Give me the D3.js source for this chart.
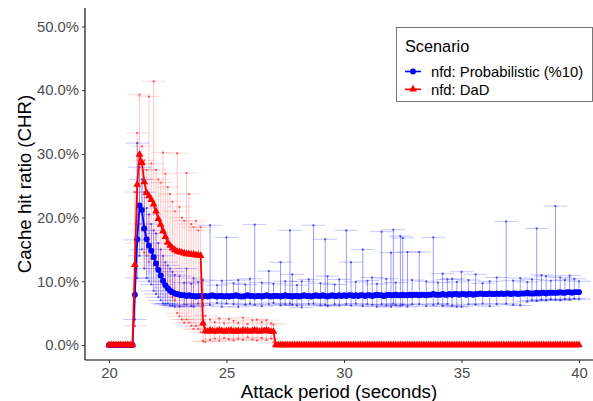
<!DOCTYPE html>
<html>
<head>
<meta charset="utf-8">
<script src="https://cdn.jsdelivr.net/npm/d3@7"></script>
<style>
  body { margin: 0; background: #fff; }
  text { font-family: "Liberation Sans", Arial, sans-serif; }
</style>
</head>
<body>
<div id="chart-container"></div>
<script>
// time grid, 0.1 s steps from 20 to 40
const times = d3.range(0, 201).map(function (i) { return +(20 + i / 10).toFixed(1); });

// cache hit ratio (%) per time step
const probValues = [
    0, 0, 0, 0, 0, 0, 0, 0, 0, 0, 0,
    7.9, 16.6, 21.9, 21.2, 18.3, 16.6, 15.6, 14.8, 13.8,
    12.8, 11.8, 10.9, 10.1, 9.4, 8.9, 8.5, 8.3, 8.1, 8.0,
    7.9, 7.8, 7.8, 7.7, 7.8, 7.7, 7.7, 7.6, 7.7, 7.7, 7.6,
    7.7, 7.6, 7.7, 7.8, 7.7, 7.6, 7.7, 7.7, 7.6, 7.7,
    7.6, 7.7, 7.7, 7.8, 7.7, 7.6, 7.6, 7.7, 7.8, 7.7,
    7.7, 7.6, 7.7, 7.7, 7.6, 7.7, 7.8, 7.7, 7.6, 7.7,
    7.7, 7.7, 7.6, 7.7, 7.8, 7.7, 7.7, 7.6, 7.7, 7.7,
    7.6, 7.7, 7.8, 7.7, 7.7, 7.6, 7.7, 7.8, 7.7, 7.7,
    7.8, 7.7, 7.6, 7.7, 7.8, 7.7, 7.7, 7.8, 7.7, 7.8,
    7.7, 7.8, 7.8, 7.7, 7.8, 7.7, 7.8, 7.8, 7.7, 7.8,
    7.8, 7.7, 7.8, 7.9, 7.8, 7.8, 7.7, 7.8, 7.9, 7.8,
    7.8, 7.9, 7.8, 7.8, 7.9, 7.8, 7.8, 7.9, 7.8, 7.9,
    7.9, 7.8, 7.9, 7.9, 7.8, 7.9, 7.9, 8.0, 7.9, 7.9,
    7.9, 8.0, 7.9, 7.9, 8.0, 7.9, 8.0, 8.0, 7.9, 8.0,
    8.0, 7.9, 8.0, 8.0, 7.9, 8.0, 8.0, 8.1, 8.0, 8.0,
    8.0, 8.1, 8.0, 8.0, 8.1, 8.0, 8.1, 8.0, 8.1, 8.1,
    8.0, 8.1, 8.1, 8.0, 8.1, 8.1, 8.1, 8.2, 8.1, 8.1,
    8.1, 8.2, 8.1, 8.2, 8.2, 8.1, 8.2, 8.2, 8.2, 8.2,
    8.2, 8.3, 8.2, 8.2, 8.3, 8.3, 8.2, 8.3, 8.3, 8.3
];

const dadValues = [
    0, 0, 0, 0, 0, 0, 0, 0, 0, 0, 0,
    12.6, 25.2, 29.9, 28.6, 25.6, 23.9, 23.4, 22.8, 22.1,
    21.0, 19.8, 18.9, 17.9, 17.0, 16.1, 15.6, 15.2, 14.9, 14.7,
    14.6, 14.5, 14.4, 14.3, 14.3, 14.2, 14.2, 14.1, 14.1, 14.0,
    3.4,
    2.2, 2.1, 2.3, 2.2, 2.1, 2.2, 2.3, 2.2, 2.1, 2.2,
    2.2, 2.3, 2.1, 2.2, 2.2, 2.1, 2.3, 2.2, 2.2, 2.1,
    2.2, 2.3, 2.2, 2.1, 2.2, 2.2, 2.3, 2.2, 2.1, 2.1,
    0, 0, 0, 0, 0, 0, 0, 0, 0, 0, 0, 0, 0, 0, 0, 0, 0, 0, 0, 0,
    0, 0, 0, 0, 0, 0, 0, 0, 0, 0, 0, 0, 0, 0, 0, 0, 0, 0, 0, 0,
    0, 0, 0, 0, 0, 0, 0, 0, 0, 0, 0, 0, 0, 0, 0, 0, 0, 0, 0, 0,
    0, 0, 0, 0, 0, 0, 0, 0, 0, 0, 0, 0, 0, 0, 0, 0, 0, 0, 0, 0,
    0, 0, 0, 0, 0, 0, 0, 0, 0, 0, 0, 0, 0, 0, 0, 0, 0, 0, 0, 0,
    0, 0, 0, 0, 0, 0, 0, 0, 0, 0, 0, 0, 0, 0, 0, 0, 0, 0, 0, 0,
    0, 0, 0, 0, 0, 0, 0, 0, 0, 0
];

// visible error bars: [time, low %, high %]
const probErrors = [
    [21.1, 4.0, 16.5], [21.2, 10.5, 31.7], [21.3, 14.0, 27.9], [21.4, 15.0, 26.0],
    [21.5, 12.0, 24.0], [21.6, 10.5, 21.5], [21.7, 10.0, 20.5], [21.8, 9.5, 19.0],
    [21.9, 8.5, 18.0], [22.0, 8.0, 17.5], [22.1, 7.5, 16.0], [22.2, 7.0, 15.0],
    [22.3, 6.5, 14.0], [22.4, 6.4, 13.0], [22.5, 6.5, 12.5], [22.6, 6.2, 12.0],
    [22.7, 6.2, 11.5], [22.8, 6.0, 11.0], [23.0, 6.0, 10.8], [23.2, 6.4, 9.8],
    [23.3, 6.3, 12.0], [23.5, 6.1, 9.6], [23.6, 6.0, 10.5], [23.8, 6.5, 9.9],
    [24.0, 6.2, 10.2], [24.3, 6.3, 18.8], [24.6, 6.6, 9.4], [24.8, 6.0, 10.1],
    [25.0, 6.5, 16.9], [25.3, 6.4, 9.7], [25.5, 6.0, 10.2], [25.8, 6.3, 9.5],
    [26.0, 6.5, 10.4], [26.2, 6.3, 18.9], [26.5, 6.1, 9.8], [26.8, 6.4, 11.6],
    [27.0, 6.6, 9.6], [27.3, 6.2, 13.0], [27.5, 6.4, 10.0], [27.7, 6.5, 18.0],
    [27.8, 6.3, 11.1], [28.0, 6.2, 9.4], [28.2, 5.9, 10.0], [28.5, 6.4, 10.3],
    [28.7, 6.5, 18.8], [29.0, 6.2, 9.7], [29.2, 6.3, 16.6], [29.3, 6.1, 10.8],
    [29.6, 6.4, 9.5], [29.8, 6.2, 10.3], [30.1, 6.4, 18.0], [30.3, 6.2, 13.0],
    [30.5, 6.5, 9.9], [30.8, 6.1, 15.0], [31.0, 6.4, 10.1], [31.2, 6.3, 10.6],
    [31.4, 6.0, 9.6], [31.6, 6.4, 17.8], [31.8, 6.2, 10.4], [32.0, 6.0, 14.5],
    [32.1, 6.5, 18.1], [32.2, 6.3, 9.8], [32.4, 6.2, 17.1], [32.5, 6.3, 16.8],
    [32.7, 6.0, 14.6], [32.9, 6.4, 10.2], [33.2, 6.4, 14.6], [33.5, 6.1, 10.0],
    [33.8, 6.3, 16.9], [34.0, 6.5, 9.8], [34.2, 6.1, 11.2], [34.4, 6.4, 10.3],
    [34.6, 6.2, 10.4], [34.8, 6.0, 9.9], [35.0, 6.0, 11.5], [35.3, 6.4, 10.2],
    [35.6, 6.3, 11.1], [35.9, 6.5, 9.7], [36.2, 6.1, 10.0], [36.5, 6.4, 10.6],
    [36.9, 6.5, 19.4], [37.2, 6.3, 10.1], [37.5, 6.2, 10.5], [37.8, 6.8, 9.9],
    [38.0, 7.0, 10.3], [38.2, 6.9, 18.3], [38.4, 7.1, 11.0], [38.6, 7.0, 10.8],
    [38.8, 7.2, 10.1], [39.0, 7.1, 21.8], [39.2, 7.0, 10.6], [39.4, 7.2, 10.2],
    [39.6, 7.1, 10.9], [39.8, 7.3, 10.4], [40.0, 7.2, 10.0]
];

const dadErrors = [
    [21.1, 3.0, 24.0], [21.2, 16.0, 33.3], [21.3, 19.0, 39.3], [21.4, 18.0, 31.2],
    [21.5, 14.5, 29.0], [21.6, 14.0, 27.5], [21.7, 13.0, 39.0], [21.8, 13.5, 28.5],
    [21.9, 12.5, 41.4], [22.0, 12.0, 27.5], [22.1, 11.5, 26.0], [22.2, 10.0, 25.5],
    [22.3, 9.5, 30.2], [22.4, 9.0, 26.9], [22.5, 8.5, 24.8], [22.6, 8.0, 23.7],
    [22.7, 7.5, 22.5], [22.8, 7.0, 21.0], [22.9, 5.0, 30.1], [23.0, 4.5, 21.7],
    [23.1, 4.0, 20.0], [23.2, 3.5, 19.5], [23.3, 4.0, 27.0], [23.4, 3.5, 23.7],
    [23.5, 3.0, 19.0], [23.6, 2.5, 18.5], [23.7, 3.0, 19.5], [23.8, 2.5, 18.0],
    [23.9, 2.0, 18.5], [24.0, 0.6, 6.5], [24.1, 0.5, 4.6], [24.3, 0.8, 4.0],
    [24.5, 1.0, 3.6], [24.7, 0.6, 4.2], [24.9, 1.1, 3.4], [25.1, 0.9, 4.1],
    [25.3, 0.7, 3.8], [25.5, 1.0, 3.5], [25.7, 0.8, 4.3], [25.9, 1.2, 3.3],
    [26.1, 0.9, 3.9], [26.3, 0.7, 4.0], [26.5, 1.1, 3.6], [26.7, 0.8, 3.9],
    [26.9, 1.0, 3.4], [27.0, 0.4, 3.2]
];

const yTicks = [0, 10, 20, 30, 40, 50];
const xTicks = [20, 25, 30, 35, 40];

const series = [
    { name: "nfd: Probabilistic (%10)", values: probValues, errors: probErrors, color: "#0000ff", shape: d3.symbolCircle, size: 28, vOpacity: 0.4, capOpacity: 0.22 },
    { name: "nfd: DaD", values: dadValues, errors: dadErrors, color: "#ff0000", shape: d3.symbolTriangle, size: 26, vOpacity: 0.22, capOpacity: 0.14 }
];

const width = 593, height = 401;
const panelLeft = 85, panelBottom = 360, panelTop = 8, panelRight = 593;

const x = d3.scaleLinear().domain([20, 40]).range([109, 579]);
const y = d3.scaleLinear().domain([0, 50]).range([345, 26.5]);

const svg = d3.select("#chart-container").append("svg")
    .attr("width", width)
    .attr("height", height);

svg.append("rect").attr("width", width).attr("height", height).attr("fill", "#fff");

svg.append("clipPath").attr("id", "panel")
    .append("rect")
    .attr("x", panelLeft).attr("y", panelTop)
    .attr("width", panelRight - panelLeft).attr("height", panelBottom - panelTop);

const plot = svg.append("g").attr("clip-path", "url(#panel)");

// error bars first, with caps one second wide
series.forEach(function (s) {
    const g = plot.append("g");
    s.errors.forEach(function (e) {
        const cx = x(e[0]), half = (x(0.5) - x(0));
        g.append("line")
            .attr("x1", cx).attr("x2", cx)
            .attr("y1", y(e[1])).attr("y2", y(e[2]))
            .attr("stroke", s.color).attr("stroke-opacity", s.vOpacity);
        [e[1], e[2]].forEach(function (v) {
            g.append("line")
                .attr("x1", cx - half).attr("x2", cx + half)
                .attr("y1", y(v)).attr("y2", y(v))
                .attr("stroke", s.color).attr("stroke-opacity", s.capOpacity);
            g.append("rect")
                .attr("x", cx - 1).attr("y", y(v) - 1)
                .attr("width", 2).attr("height", 2)
                .attr("fill", s.color).attr("fill-opacity", 0.6);
        });
    });
});

const line = d3.line()
    .x(function (d) { return x(d[0]); })
    .y(function (d) { return y(d[1]); });

series.forEach(function (s) {
    const pts = times.map(function (t, i) { return [t, s.values[i]]; });
    plot.append("path")
        .datum(pts)
        .attr("d", line)
        .attr("fill", "none")
        .attr("stroke", s.color)
        .attr("stroke-width", 1.8);
    plot.selectAll(null)
        .data(pts)
        .enter().append("path")
        .attr("transform", function (d) { return "translate(" + x(d[0]) + "," + y(d[1]) + ")"; })
        .attr("d", d3.symbol().type(s.shape).size(s.size))
        .attr("fill", s.color);
});

// axes
const yAxis = svg.append("g")
    .attr("transform", "translate(" + panelLeft + ",0)")
    .call(d3.axisLeft(y).tickValues(yTicks).tickSize(3).tickPadding(3)
        .tickFormat(function (d) { return d.toFixed(1) + "%"; }));
yAxis.select(".domain").attr("d", "M0," + panelTop + "V" + panelBottom).attr("stroke", "#000").attr("stroke-width", 1.1);

const xAxis = svg.append("g")
    .attr("transform", "translate(0," + panelBottom + ")")
    .call(d3.axisBottom(x).tickValues(xTicks).tickSize(3).tickPadding(4));
xAxis.select(".domain").attr("d", "M" + panelLeft + ",0H" + panelRight).attr("stroke", "#000").attr("stroke-width", 1.1);

svg.selectAll(".tick line").attr("stroke", "#333");
svg.selectAll(".tick text")
    .attr("fill", "#4d4d4d")
    .style("font-size", "14.8px")
    .style("font-family", "'Liberation Sans', Arial, sans-serif");

svg.append("text")
    .attr("x", (panelLeft + panelRight) / 2)
    .attr("y", 398)
    .attr("text-anchor", "middle")
    .style("font-size", "18.7px")
    .text("Attack period (seconds)");

svg.append("text")
    .attr("transform", "translate(31," + (panelTop + panelBottom) / 2 + ") rotate(-90)")
    .attr("text-anchor", "middle")
    .style("font-size", "18.7px")
    .text("Cache hit ratio (CHR)");

// legend
const legend = svg.append("g");
legend.append("rect")
    .attr("x", 396.5).attr("y", 27.5)
    .attr("width", 196).attr("height", 74)
    .attr("fill", "#fff")
    .attr("stroke", "#555")
    .attr("stroke-width", 0.8);
legend.append("text")
    .attr("x", 405).attr("y", 51.5)
    .style("font-size", "16.3px")
    .text("Scenario");

series.forEach(function (s, i) {
    const ly = 71.5 + i * 17.8;
    legend.append("line")
        .attr("x1", 405).attr("x2", 421)
        .attr("y1", ly).attr("y2", ly)
        .attr("stroke", s.color).attr("stroke-width", 1.6);
    legend.append("path")
        .attr("transform", "translate(413," + ly + ")")
        .attr("d", d3.symbol().type(s.shape).size(s.size))
        .attr("fill", s.color);
    legend.append("text")
        .attr("x", 431).attr("y", ly + 5.2)
        .style("font-size", "14.8px")
        .text(s.name);
});
</script>
</body>
</html>
